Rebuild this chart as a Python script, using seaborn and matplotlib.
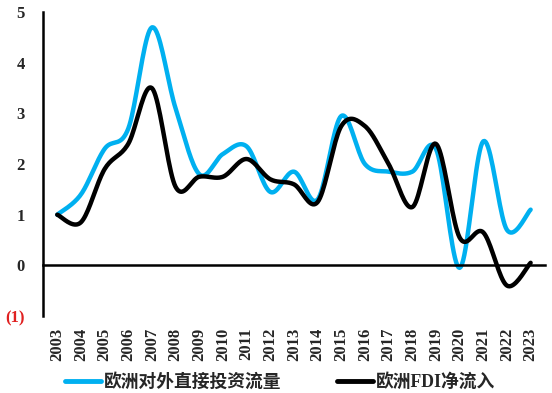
import numpy as np
import pandas as pd
import matplotlib
matplotlib.use('Agg')
import matplotlib.pyplot as plt
import seaborn as sns

years = [str(y) for y in range(2003, 2024)]
outward = [1.0, 1.4, 2.3, 2.7, 4.7, 3.1, 1.8, 2.2, 2.35, 1.45, 1.85,
           1.3, 2.95, 2.0, 1.85, 1.85, 2.3, -0.05, 2.45, 0.7, 1.1]
fdi_net = [1.0, 0.85, 1.9, 2.4, 3.5, 1.55, 1.75, 1.75, 2.1, 1.7, 1.6,
           1.25, 2.75, 2.75, 2.0, 1.15, 2.4, 0.55, 0.65, -0.4, 0.05]
names = ['欧洲对外直接投资流量', '欧洲FDI净流入']
colors = ['#00B0F0', '#000000']
ytick_labels = ['(1)', '0', '1', '2', '3', '4', '5']


def smooth(vals, n=20):
    # excel-style smoothed line (catmull-rom through the points)
    p = np.array(vals, dtype=float)
    x = np.arange(len(p), dtype=float)
    pts = np.column_stack([x, p])
    pts = np.vstack([pts[0], pts, pts[-1]])
    out = []
    t = np.linspace(0, 1, n, endpoint=False)[:, None]
    for i in range(1, len(pts) - 2):
        p0, p1, p2, p3 = pts[i - 1], pts[i], pts[i + 1], pts[i + 2]
        c1 = p1 + (p2 - p0) / 6
        c2 = p2 - (p3 - p1) / 6
        seg = ((1 - t) ** 3) * p1 + 3 * ((1 - t) ** 2) * t * c1 + 3 * (1 - t) * t ** 2 * c2 + t ** 3 * p2
        out.append(seg)
    out.append(pts[-2][None, :])
    return np.vstack(out)


frames = []
for name, vals in zip(names, [outward, fdi_net]):
    s = smooth(vals)
    frames.append(pd.DataFrame({'x': s[:, 0], 'y': s[:, 1], 'series': name}))
df = pd.concat(frames, ignore_index=True)

sns.set_style('white')
plt.rcParams['font.family'] = ['Liberation Serif', 'Noto Sans CJK SC']

fig = plt.figure(figsize=(5.52, 3.93), dpi=100)
ax = fig.add_axes([0.078, 0.196, 0.909, 0.773])
sns.lineplot(data=df, x='x', y='y', hue='series', palette=colors, sort=False,
             linewidth=3.2, ax=ax, legend=False)

ax.set_xlim(-0.6, len(years) - 0.4)
ax.set_ylim(-1, 5)
ax.set_xlabel('')
ax.set_ylabel('')

for s in ['top', 'right']:
    ax.spines[s].set_visible(False)
ax.spines['bottom'].set_position(('data', 0))
for s in ['bottom', 'left']:
    ax.spines[s].set_linewidth(1.8)
    ax.spines[s].set_color('black')
ax.tick_params(axis='x', direction='out', length=4, width=1.8, pad=41, color='black',
               labelrotation=90)
ax.tick_params(axis='y', direction='out', length=5, width=1.8, pad=8, color='black')
ax.grid(False)

ax.set_xticks(range(len(years)))
ax.set_xticklabels(years, fontsize=12, fontweight='bold', rotation=90)
ax.set_yticks(range(-1, 6))
ax.set_yticklabels(ytick_labels, fontsize=12, fontweight='bold')
ax.get_yticklabels()[0].set_color('#E02020')

handles = [plt.Line2D([], [], color=c, linewidth=3.5) for c in colors]
fig.legend(handles, names, loc='center', bbox_to_anchor=(0.507, 0.028), ncol=2,
           frameon=False, handlelength=2.05, handletextpad=0.15, columnspacing=3.1,
           prop={'size': 12.8, 'weight': 'bold'})

fig.savefig('out.png', dpi=100)
